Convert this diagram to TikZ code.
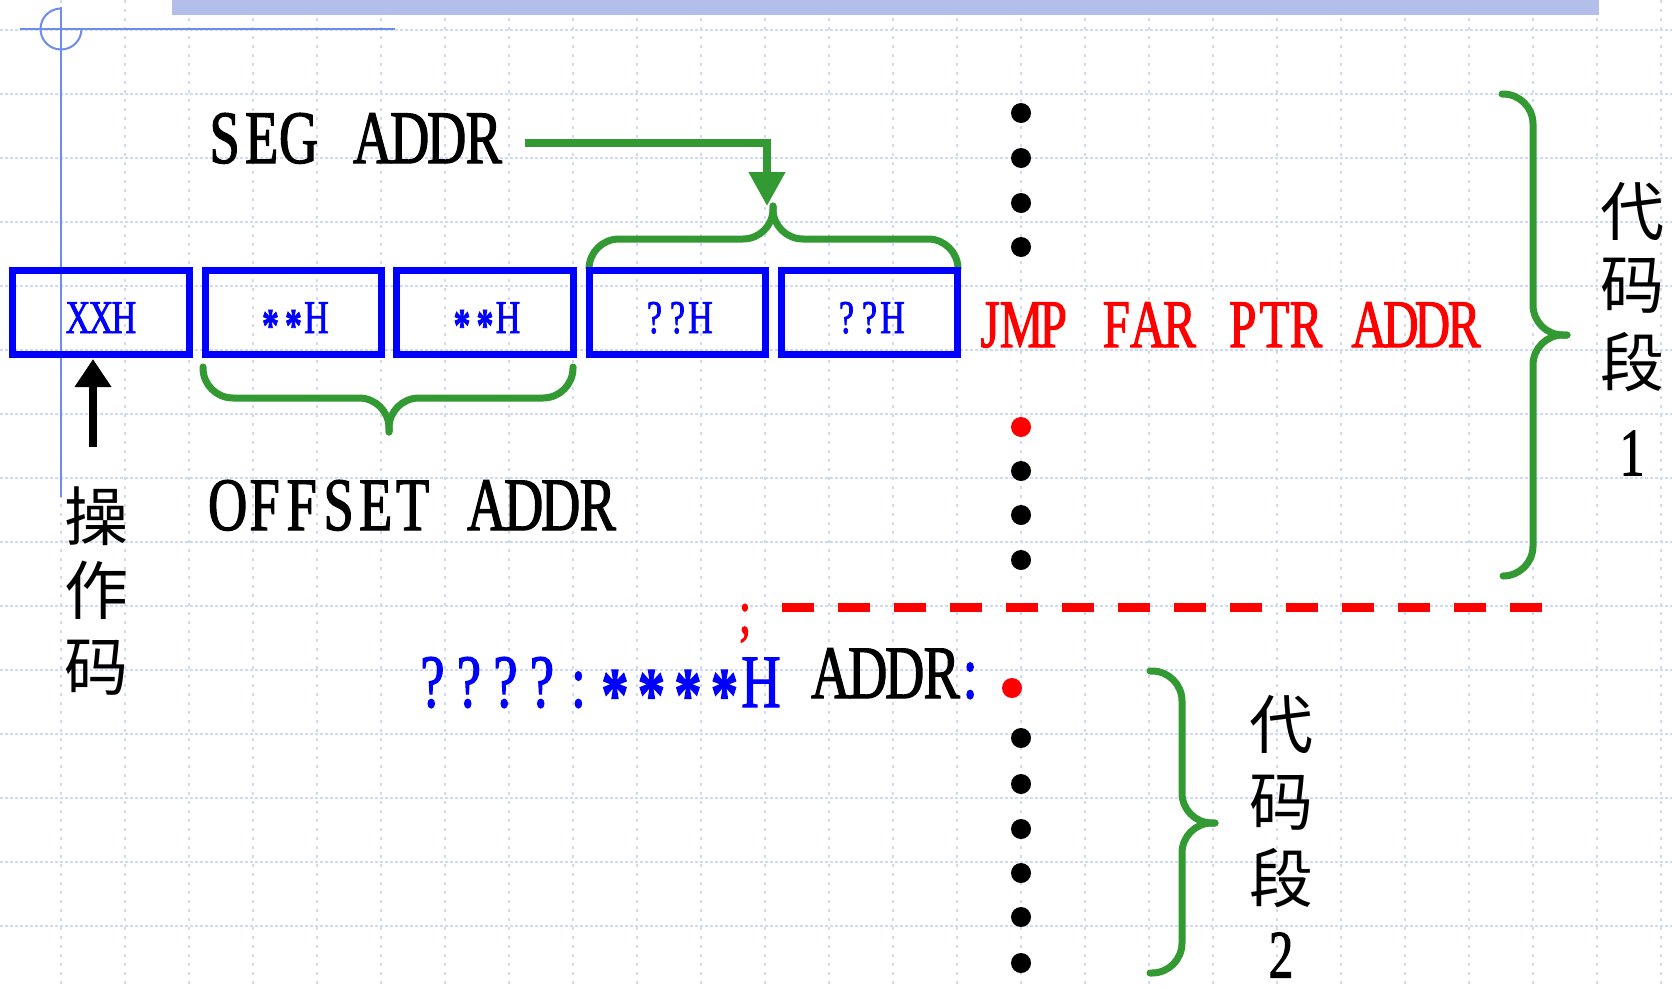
\documentclass[tikz,border=0pt]{standalone}
\usepackage{fontspec}
\usetikzlibrary{arrows.meta}
\newfontfamily\mf[FakeStretch=0.72,FakeBold=1.5]{Liberation Serif}
\newfontfamily\cjk{Noto Sans CJK SC}
\definecolor{gridc}{RGB}{208,218,247}
\definecolor{bandc}{RGB}{180,190,234}
\definecolor{axisc}{RGB}{110,140,240}
\definecolor{grn}{RGB}{51,153,51}
\def\mcellw{37pt}
\def\monoloop#1{\ifx\relax#1\else\makebox[\mcellw][c]{#1}\expandafter\monoloop\fi}
\newcommand\monotext[2]{\def\mcellw{#1}\monoloop#2\relax}
\newcommand\as{\raisebox{-0.17em}{\bfseries *}}
\begin{document}
\begin{tikzpicture}[x=1pt,y=-1pt,
  box/.style={draw=blue, line width=7pt, minimum width=176.5pt, minimum height=84pt, inner sep=0pt},
  blab/.style={text=blue, font=\mf\fontsize{47}{50}\selectfont, inner sep=0pt, anchor=base},
  big/.style={font=\mf\fontsize{75.5}{80}\selectfont, inner sep=0pt, anchor=base west},
  cjkc/.style={font=\cjk\fontsize{64}{70}\selectfont, inner sep=0pt},
  dig/.style={font=\mf\fontsize{68}{70}\selectfont, inner sep=0pt},
  dotb/.style={circle, fill=black, minimum size=20pt, inner sep=0pt},
  dotr/.style={circle, fill=red, minimum size=20pt, inner sep=0pt},
  brace/.style={draw=grn, line width=7pt, rounded corners=30pt, line cap=round},
  gridh/.style={draw=gridc, line width=1.3pt, dash pattern=on 2.5pt off 2.5pt},
  gridv/.style={draw=gridc, line width=1.3pt, dash pattern=on 3pt off 6pt},
]
\useasboundingbox (0,0) rectangle (1672,988);
\fill[white] (0,0) rectangle (1672,988);
% grid
\foreach \y in {30,94,...,926} \draw[gridh] (0,\y) -- (1672,\y);
\foreach \x in {61,125,...,1661} \draw[gridv] (\x,0) -- (\x,988);
% top band and corner mark
\fill[bandc] (172,0) rectangle (1599,15);
\draw[axisc, line width=2pt] (20,29) -- (395,29);
\draw[axisc, line width=2pt] (61,7) -- (61,497);
\draw[axisc, line width=2pt] (81.5,29) arc[start angle=0, end angle=-270, radius=20.5pt];
% braces
\draw[brace] (589,268) -- (589,239) -- (773,239) -- (773,206);
\draw[brace] (958,268) -- (958,239) -- (773,239) -- (773,206);
\draw[brace] (203,367) -- (203,398) -- (389,398) -- (389,432);
\draw[brace] (573,367) -- (573,398) -- (389,398) -- (389,432);
\draw[brace] (1502,94) -- (1533,94) -- (1533,335) -- (1567,335);
\draw[brace] (1503,576) -- (1533,576) -- (1533,335) -- (1567,335);
\draw[brace] (1150,671) -- (1182,671) -- (1182,823) -- (1215,823);
\draw[brace] (1150,973) -- (1182,973) -- (1182,823) -- (1215,823);
% boxes
\node[box] (b1) at (101,312.5) {};
\node[box] (b2) at (293.5,312.5) {};
\node[box] (b3) at (485,312.5) {};
\node[box] (b4) at (677.5,312.5) {};
\node[box] (b5) at (869.5,312.5) {};
\node[blab] (l1) at (101,333) {\monotext{23pt}{XXH}};
\node[blab] (l2) at (293.5,333) {\monotext{23pt}{\as\as H}};
\node[blab] (l3) at (485,333) {\monotext{23pt}{\as\as H}};
\node[blab] (l4) at (677.5,333) {\monotext{23pt}{??H}};
\node[blab] (l5) at (869.5,333) {\monotext{23pt}{??H}};
% texts
\node[big] (seg) at (206,163) {\monotext{37pt}{SEG~ADDR}};
\node[big] (off) at (209,530) {\monotext{37pt}{OFFSET~ADDR}};
\node[big, text=red, font=\mf\fontsize{68}{70}\selectfont] (jmp) at (974,347) {\monotext{31.6pt}{JMP~FAR~PTR~ADDR}};
\node[big, text=blue] (tgt) at (414,707) {\monotext{36.5pt}{????:\as\as\as\as H}};
\node[big] (addr) at (812,698) {\monotext{37pt}{ADDR}\textcolor{blue}{\monotext{20pt}{:}}};
\node[big, text=red, font=\mf\fontsize{62}{64}\selectfont, anchor=base] (semi) at (745,633) {;};
% chinese labels
\node[cjkc] (op1) at (96,516) {操};
\node[cjkc] (op2) at (96,590) {作};
\node[cjkc] (op3) at (96,668) {码};
\node[cjkc] (s1a) at (1632,212) {代};
\node[cjkc] (s1b) at (1632,286) {码};
\node[cjkc] (s1c) at (1632,362) {段};
\node[dig] (s1d) at (1632,453) {1};
\node[cjkc] (s2a) at (1281,725) {代};
\node[cjkc] (s2b) at (1281,803) {码};
\node[cjkc] (s2c) at (1281,878) {段};
\node[dig] (s2d) at (1281,955) {2};
% dots
\foreach \y/\n in {113/a,158/b,203/c,247/d,471/f,515/g,560/h} \node[dotb] (dot\n) at (1021,\y) {};
\node[dotr] (dote) at (1021,427) {};
\node[dotr] (ldot0) at (1012,688) {};
\foreach \y/\n in {738/a,784/b,829/c,873/d,917/e,963/f} \node[dotb] (ldot\n) at (1021,\y) {};
% red dashed separator
\coordinate (dashL) at (782,607.5);
\coordinate (dashR) at (1542,607.5);
\draw[red, line width=9pt, dash pattern=on 32pt off 24pt] (dashL) -- (dashR);
% arrows
\coordinate (segarr) at (525,143);
\coordinate (segtip) at (767,206);
\draw[grn, line width=7.5pt, -{Triangle[length=34pt,width=35pt]}] (segarr) -| (segtip);
\coordinate (opstart) at (93,447);
\coordinate (optip) at (93,359);
\draw[line width=8pt, -{Triangle[length=28pt,width=35pt]}] (opstart) -- (optip);
\end{tikzpicture}
\end{document}
